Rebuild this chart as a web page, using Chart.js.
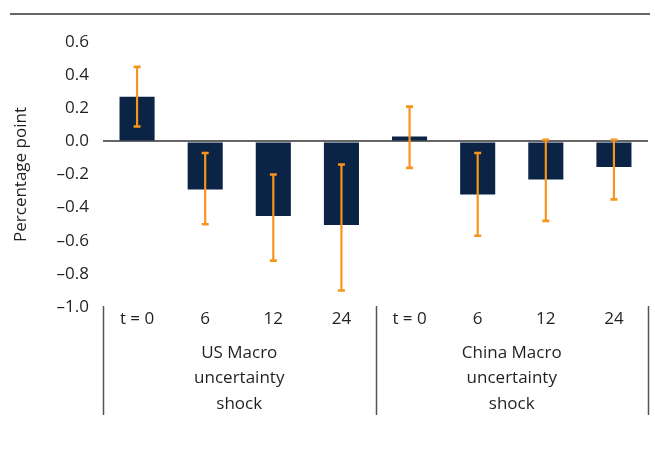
<!DOCTYPE html>
<html lang="en">
<head>
<meta charset="UTF-8">
<title>Macro uncertainty shocks</title>
<script src="https://cdn.jsdelivr.net/npm/chart.js@4"></script>
<style>
  body { margin: 0; background: #fff; }
  #wrap { width: 655px; height: 459px; }
</style>
</head>
<body>
<div id="wrap"><canvas id="chart" width="655" height="459"></canvas></div>
<script>
// horizons per shock, two shock groups
const horizons = ['t = 0', '6', '12', '24', 't = 0', '6', '12', '24'];
const groups = [['US Macro', 'uncertainty', 'shock'], ['China Macro', 'uncertainty', 'shock']];
// point estimate and confidence band (percentage points)
const estimate = [0.27, -0.29, -0.45, -0.505, 0.03, -0.32, -0.23, -0.155];
const upper    = [0.45, -0.07, -0.20, -0.14, 0.21, -0.07, 0.01, 0.01];
const lower    = [0.09, -0.50, -0.72, -0.90, -0.16, -0.57, -0.48, -0.35];
const yTicks   = [-1.0, -0.8, -0.6, -0.4, -0.2, 0.0, 0.2, 0.4, 0.6];

const NAVY = '#0b2344';
const ORANGE = '#f7941d';
const INK = '#231f20';
const FONT = '"Open Sans", "Noto Sans", sans-serif';
const SIZE = 17;

// orange whiskers on top of the bars
const errorBars = {
  id: 'errorBars',
  afterDatasetsDraw(chart) {
    const { ctx, scales: { x, y } } = chart;
    ctx.save();
    ctx.strokeStyle = ORANGE;
    estimate.forEach((_, i) => {
      const px = x.getPixelForValue(i);
      const top = y.getPixelForValue(upper[i]);
      const bot = y.getPixelForValue(lower[i]);
      ctx.lineWidth = 2.2;
      ctx.beginPath();
      ctx.moveTo(px, top); ctx.lineTo(px, bot);
      ctx.stroke();
      ctx.lineWidth = 2.6;
      ctx.beginPath();
      ctx.moveTo(px - 3.5, top); ctx.lineTo(px + 3.5, top);
      ctx.moveTo(px - 3.5, bot); ctx.lineTo(px + 3.5, bot);
      ctx.stroke();
    });
    ctx.restore();
  }
};

// group separators, group captions and the rule at the top
const groupAxis = {
  id: 'groupAxis',
  afterDraw(chart) {
    const { ctx, chartArea, scales: { x } } = chart;
    const mid = (x.getPixelForValue(3) + x.getPixelForValue(4)) / 2;
    const edges = [chartArea.left, mid, chartArea.right];
    ctx.save();
    ctx.strokeStyle = '#555';
    ctx.lineWidth = 1.5;
    edges.forEach(ex => {
      ctx.beginPath();
      ctx.moveTo(Math.round(ex) + 0.5, chartArea.bottom - 1);
      ctx.lineTo(Math.round(ex) + 0.5, 415);
      ctx.stroke();
    });
    ctx.lineWidth = 2;
    ctx.strokeStyle = '#666';
    ctx.beginPath();
    ctx.moveTo(10, 14); ctx.lineTo(650, 14);
    ctx.stroke();

    ctx.fillStyle = INK;
    ctx.font = SIZE + 'px ' + FONT;
    ctx.textAlign = 'center';
    ctx.textBaseline = 'middle';
    groups.forEach((lines, g) => {
      const cx = (edges[g] + edges[g + 1]) / 2;
      lines.forEach((t, k) => ctx.fillText(t, cx, 353 + k * 25.5));
    });
    ctx.restore();
  }
};

new Chart(document.getElementById('chart'), {
  type: 'bar',
  data: {
    labels: horizons,
    datasets: [{
      data: estimate,
      backgroundColor: NAVY,
      borderWidth: 0,
      categoryPercentage: 1,
      barPercentage: 0.515
    }]
  },
  options: {
    responsive: false,
    animation: false,
    layout: { padding: { left: 3, right: 7, top: 42, bottom: 0 } },
    plugins: { legend: { display: false }, tooltip: { enabled: false } },
    scales: {
      x: {
        grid: { display: false, drawTicks: false },
        border: { display: false },
        ticks: {
          color: INK,
          font: { family: FONT, size: SIZE },
          padding: 2,
          autoSkip: false,
          maxRotation: 0
        },
        afterFit(scale) { scale.height = 152; }
      },
      y: {
        min: -1.0,
        max: 0.6,
        z: 1,
        afterBuildTicks(scale) { scale.ticks = yTicks.map(v => ({ value: v })); },
        grid: {
          drawTicks: false,
          color: c => (Math.abs(c.tick.value) < 1e-9 ? '#666' : 'rgba(0,0,0,0)'),
          lineWidth: 2
        },
        border: { display: false },
        ticks: {
          color: INK,
          font: { family: FONT, size: SIZE },
          padding: 14,
          // long dash for negative values
          callback: v => (v < 0 ? '\u2013' + Math.abs(v).toFixed(1) : v.toFixed(1))
        },
        title: {
          display: true,
          text: 'Percentage point',
          color: INK,
          font: { family: FONT, size: SIZE },
          padding: { top: 8, bottom: 0 }
        },
        afterFit(scale) { scale.width = 100; }
      }
    }
  },
  plugins: [errorBars, groupAxis]
});
</script>
</body>
</html>
